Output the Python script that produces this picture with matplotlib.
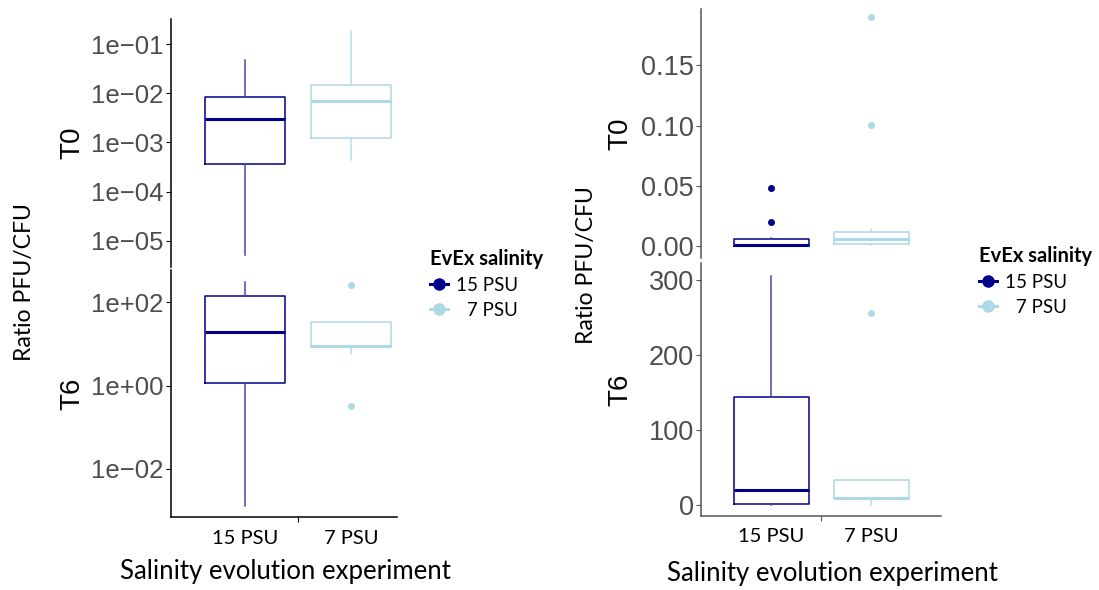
import matplotlib
matplotlib.use("Agg")
import matplotlib.pyplot as plt
from matplotlib.lines import Line2D
from matplotlib.ticker import FixedLocator, NullFormatter

# groups and colours
groups = ["15 PSU", "7 PSU"]
legend_labels = ["15 PSU", "\u20077 PSU"]
colors = ["#00008B", "#ADD8E6"]
whisker_colors = ["#4646AE", "#B9DEEB"]

# left panel (log10 scale) box stats per timepoint
log_t0_whislo = [5.2e-6, 4.5e-4]
log_t0_q1 = [3.6e-4, 1.26e-3]
log_t0_med = [3.04e-3, 7.1e-3]
log_t0_q3 = [8.5e-3, 1.46e-2]
log_t0_whishi = [4.8e-2, 1.88e-1]
log_t0_fliers = [[], []]

log_t6_whislo = [1.3e-3, 5.6]
log_t6_q1 = [1.16, 8.6]
log_t6_med = [19.9, 9.0]
log_t6_q3 = [144, 33.4]
log_t6_whishi = [302, 33.4]
log_t6_fliers = [[], [257, 0.33]]

# right panel (linear scale) box stats per timepoint
lin_t0_whislo = [5.2e-6, 4.5e-4]
lin_t0_q1 = [4e-4, 1.3e-3]
lin_t0_med = [1.2e-3, 5.8e-3]
lin_t0_q3 = [5.6e-3, 1.16e-2]
lin_t0_whishi = [6.8e-3, 1.45e-2]
lin_t0_fliers = [[0.048, 0.0197], [0.19, 0.1003]]

lin_t6_whislo = [1.3e-3, 0.33]
lin_t6_q1 = [1.16, 8.8]
lin_t6_med = [20, 9.8]
lin_t6_q3 = [144, 33.3]
lin_t6_whishi = [306, 33.3]
lin_t6_fliers = [[], [257]]

log_t0_ticks = [1e-1, 1e-2, 1e-3, 1e-4, 1e-5]
log_t0_ticklabels = ["1e\u221201", "1e\u221202", "1e\u221203", "1e\u221204", "1e\u221205"]
log_t6_ticks = [1e2, 1e0, 1e-2]
log_t6_ticklabels = ["1e+02", "1e+00", "1e\u221202"]
lin_t0_ticks = [0.0, 0.05, 0.10, 0.15]
lin_t0_ticklabels = ["0.00", "0.05", "0.10", "0.15"]
lin_t6_ticks = [0, 100, 200, 300]
lin_t6_ticklabels = ["0", "100", "200", "300"]

W, H = 1099, 590
fig = plt.figure(figsize=(W / 100, H / 100), dpi=100)


def px_axes(x0, x1, y0, y1):
    return fig.add_axes([x0 / W, 1 - y1 / H, (x1 - x0) / W, (y1 - y0) / H])


def draw_boxes(ax, whislo, q1, med, q3, whishi, fliers):
    for i in range(len(groups)):
        st = [dict(whislo=whislo[i], q1=q1[i], med=med[i], q3=q3[i],
                   whishi=whishi[i], fliers=fliers[i])]
        ax.bxp(st, positions=[i + 1], widths=0.75, showcaps=False,
               boxprops=dict(color=colors[i], lw=1.1),
               medianprops=dict(color=colors[i], lw=2.2),
               whiskerprops=dict(color=whisker_colors[i], lw=1.1),
               flierprops=dict(marker="o", markersize=4, markerfacecolor=colors[i],
                               markeredgecolor=colors[i]))


def style_axis(ax, ticks, labels, size, spine_col, bottom, xlim, ylim, log=False):
    if log:
        ax.set_yscale("log")
    ax.set_xlim(*xlim)
    ax.set_ylim(*ylim)
    ax.yaxis.set_major_locator(FixedLocator(ticks))
    ax.yaxis.set_minor_locator(FixedLocator([]))
    ax.yaxis.set_minor_formatter(NullFormatter())
    ax.set_yticks(ticks)
    ax.set_yticklabels(labels, family="Liberation Sans", fontsize=size, color="#4D4D4D")
    ax.tick_params(axis="y", length=3.5, width=0.8, color=spine_col, pad=1.5)
    for s in ["top", "right"]:
        ax.spines[s].set_visible(False)
    ax.spines["left"].set_color(spine_col)
    ax.spines["left"].set_linewidth(1.1)
    if bottom:
        ax.spines["bottom"].set_color(spine_col)
        ax.spines["bottom"].set_linewidth(1.1)
        ax.set_xticks([1, 2])
        ax.set_xticklabels(groups, family="Lato", fontsize=14.5, color="black")
        ax.tick_params(axis="x", which="major", length=0, pad=9)
        ax.set_xticks([1.5], minor=True)
        ax.tick_params(axis="x", which="minor", length=3.5, width=0.8, color=spine_col)
    else:
        ax.spines["bottom"].set_visible(False)
        ax.set_xticks([])
    ax.patch.set_alpha(0)


# left panel: log scale
ax = px_axes(170.5, 396.5, 19.3, 266.7)
draw_boxes(ax, log_t0_whislo, log_t0_q1, log_t0_med, log_t0_q3, log_t0_whishi, log_t0_fliers)
style_axis(ax, log_t0_ticks, log_t0_ticklabels, 18.5, "black", False,
           (0.30, 2.43), (10 ** -5.53, 10 ** -0.491), log=True)

ax = px_axes(170.5, 396.5, 270, 517.3)
draw_boxes(ax, log_t6_whislo, log_t6_q1, log_t6_med, log_t6_q3, log_t6_whishi, log_t6_fliers)
style_axis(ax, log_t6_ticks, log_t6_ticklabels, 18.5, "black", True,
           (0.30, 2.43), (10 ** -3.16, 10 ** 2.775), log=True)

# right panel: linear scale
ax = px_axes(700.7, 941, 9.3, 258)
draw_boxes(ax, lin_t0_whislo, lin_t0_q1, lin_t0_med, lin_t0_q3, lin_t0_whishi, lin_t0_fliers)
style_axis(ax, lin_t0_ticks, lin_t0_ticklabels, 19.5, "#555555", False,
           (0.297, 2.70), (-0.00995, 0.1965))

ax = px_axes(700.7, 941, 263.3, 516)
draw_boxes(ax, lin_t6_whislo, lin_t6_q1, lin_t6_med, lin_t6_q3, lin_t6_whishi, lin_t6_fliers)
style_axis(ax, lin_t6_ticks, lin_t6_ticklabels, 19.5, "#555555", True,
           (0.297, 2.70), (-14.7, 322.7))

# facet strip labels
for x, y, t in [(72, 143, "T0"), (72, 393.5, "T6"), (620.7, 133.6, "T0"), (620.7, 389.5, "T6")]:
    fig.text(x / W, 1 - y / H, t, rotation=90, ha="center", va="center",
             family="Liberation Sans", fontsize=20, color="black")

# axis titles
for x, y in [(25, 282), (587, 265.5)]:
    fig.text(x / W, 1 - y / H, "Ratio PFU/CFU", rotation=90, ha="center", va="center",
             family="Lato", fontsize=16.6, color="black")
for x, y in [(285, 571.7), (832, 573)]:
    fig.text(x / W, 1 - y / H, "Salinity evolution experiment", ha="center", va="center",
             family="Lato", fontsize=18.5, color="black")

# legends
handles = [Line2D([0], [0], color=c, lw=2.2, marker="o", markersize=8) for c in colors]
for x, y in [(430, 249), (979, 246)]:
    leg = fig.legend(handles, legend_labels, title="EvEx salinity", loc="upper left",
                     bbox_to_anchor=(x / W, 1 - y / H), frameon=False, borderpad=0,
                     borderaxespad=0, handlelength=0.95, handletextpad=0.45,
                     labelspacing=0.42, alignment="left",
                     prop=dict(family=["Lato", "DejaVu Sans"], size=13.5),
                     title_fontproperties=dict(family="Lato", weight="bold", size=14.5))

fig.savefig("out.png", dpi=100)
